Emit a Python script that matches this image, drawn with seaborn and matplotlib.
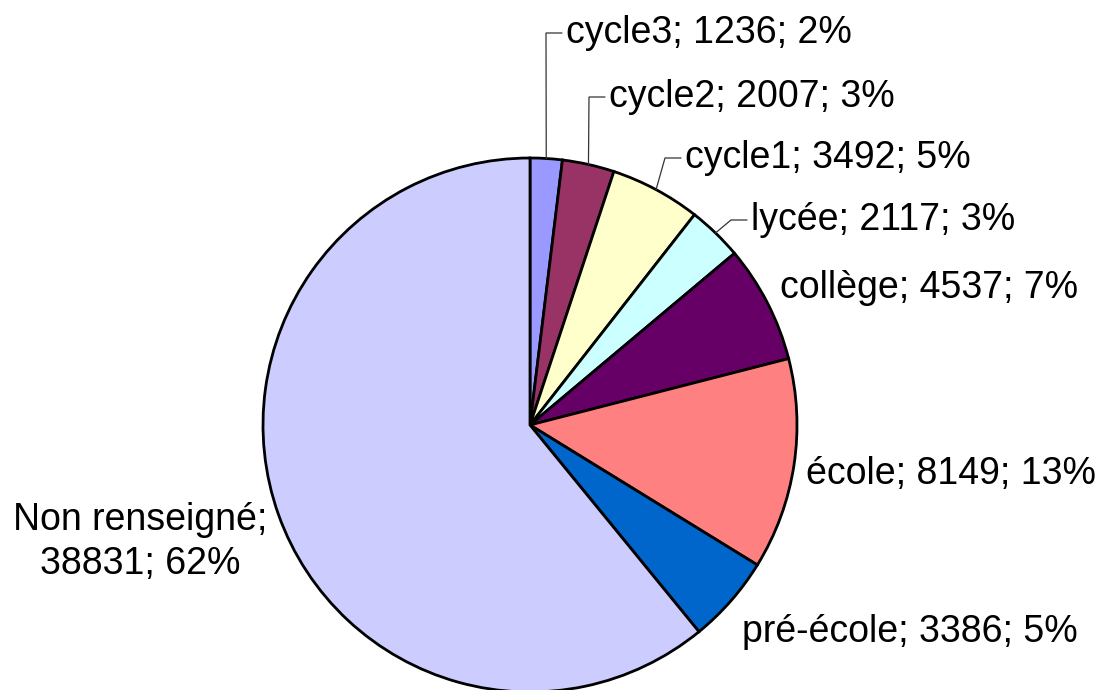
import numpy as np
import matplotlib
matplotlib.use("Agg")
import matplotlib.pyplot as plt
import seaborn as sns

# data (clockwise from 12 o'clock)
categories = ["cycle3", "cycle2", "cycle1", "lycée", "collège", "école", "pré-école", "Non renseigné"]
counts = [1236, 2007, 3492, 2117, 4537, 8149, 3386, 38831]
pct_labels = ["2%", "3%", "5%", "3%", "7%", "13%", "5%", "62%"]
colors = ["#9999FF", "#993366", "#FFFFCC", "#CCFFFF", "#660066", "#FF8080", "#0066CC", "#CCCCFF"]

sns.set_theme(style="white")
plt.rcParams["font.family"] = ["Liberation Sans", "DejaVu Sans"]

W, H = 1101, 690
fig = plt.figure(figsize=(W / 100, H / 100), dpi=100)
ax = fig.add_axes([0, 0, 1, 1])

cx, cy, r = 530, H - 425, 267
wedges, _ = ax.pie(counts, colors=colors, startangle=90, counterclock=False,
                   center=(cx, cy), radius=r,
                   wedgeprops=dict(edgecolor="black", linewidth=2.0))

ax.set_xlim(0, W)
ax.set_ylim(0, H)
ax.set_aspect("equal")
ax.axis("off")

# label layout: (x, y in pixels from top, ha, leader?)
layout = [
    (566, 33, "left", True),
    (609, 97, "left", True),
    (685, 158, "left", True),
    (751, 220, "left", True),
    (780, 288, "left", False),
    (806, 474, "left", False),
    (742, 632, "left", False),
    (140, 542, "center", False),
]

fs = 27
for w, name, n, p, (lx, ly, ha, lead) in zip(wedges, categories, counts, pct_labels, layout):
    if name == "Non renseigné":
        txt = f"{name};\n{n}; {p}"
    else:
        txt = f"{name}; {n}; {p}"
    ty = H - ly
    ax.text(lx, ty, txt, ha=ha, va="center", fontsize=fs, color="black",
            linespacing=1.32)
    if lead:
        mid = np.deg2rad((w.theta1 + w.theta2) / 2)
        ex, ey = cx + r * np.cos(mid), cy + r * np.sin(mid)
        x0 = lx - 4
        x1 = lx - 20
        ax.plot([x0, x1, ex], [ty, ty, ey], color="#333333", linewidth=0.9,
                solid_joinstyle="miter")

fig.savefig("out.png", dpi=100, facecolor="white")
